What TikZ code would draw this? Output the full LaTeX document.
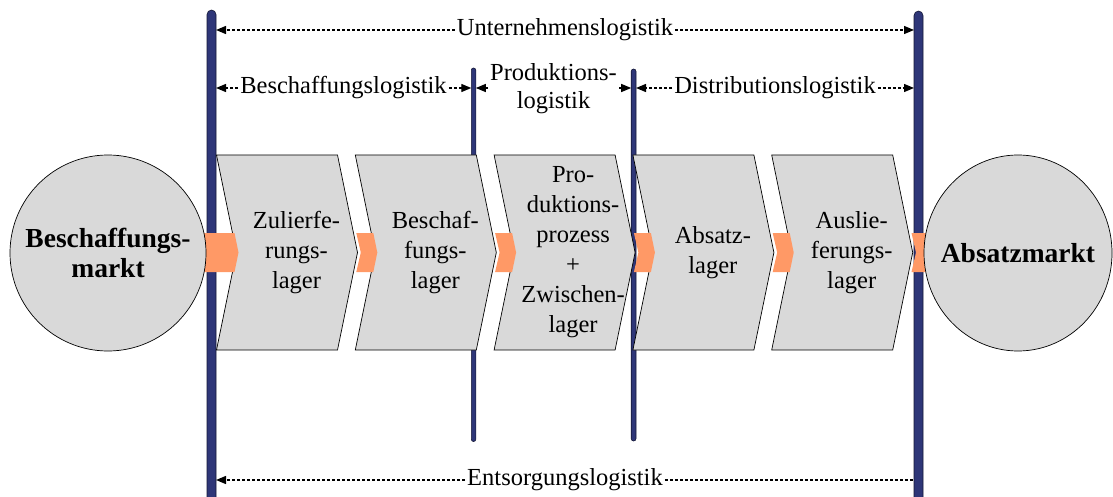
\documentclass[tikz,border=0pt]{standalone}
\usepackage{fontspec}
\setmainfont{Liberation Serif}
\usetikzlibrary{arrows.meta,shapes.geometric}
\definecolor{stagegray}{RGB}{217,217,217}
\definecolor{flow}{RGB}{255,153,102}
\definecolor{pillarblue}{RGB}{46,54,120}

\begin{document}
\begin{tikzpicture}[x=1pt,y=-1pt,
  pillar/.style={fill=pillarblue,draw=black!55!pillarblue,line width=0.6pt},
  stage/.style={fill=stagegray,draw=black,line width=0.7pt},
  flowarrow/.style={fill=flow},
  marketfont/.style={font=\fontsize{27.5}{30}\selectfont\bfseries,align=center,inner sep=0pt},
  market/.style={fill=stagegray,draw=black,line width=0.7pt,inner sep=0pt,marketfont},
  stagetext/.style={font=\fontsize{24.5}{30}\selectfont,align=center,inner sep=0pt},
  spanline/.style={dash pattern=on 3pt off 2pt,line width=1.3pt},
  spantip/.style={-{Triangle[length=10pt,width=8pt]}},
  spanlabel/.style={font=\fontsize{24.5}{28}\selectfont,align=center,inner sep=2pt}
]
\useasboundingbox (0,0) rectangle (1113,497);
\clip (0,0) rectangle (1113,497);

% vertical boundaries of the logistics areas
\filldraw[pillar,rounded corners=4.5pt] (207,10) rectangle (216,530);
\filldraw[pillar,rounded corners=2.2pt] (471.3,68) rectangle (475.8,441.5);
\filldraw[pillar,rounded corners=2.4pt] (631.2,69) rectangle (636,441);
\filldraw[pillar,rounded corners=4.5pt] (914,11) rectangle (923,530);

% process stages (chevrons)
\foreach \L in {216.5,355.3,494.1,632.9,771.7}{
  \filldraw[stage] (\L,155) -- ++(121,0) -- ++(20,97.5) -- ++(-20,97.5)
    -- ++(-121,0) -- ++(20,-97.5) -- cycle;
}

% material flow between the stages
\fill[flowarrow] (195,233) -- (234.5,233) -- (238.5,252.5) -- (234.5,272) -- (195,272) -- cycle;
\foreach \L in {355.3,494.1,632.9,771.7,910.5}{
  \fill[flowarrow] (\L+1,233) -- (\L+18,233) -- (\L+22,252.5) -- (\L+18,272)
    -- (\L+1,272) -- (\L+5.5,252.5) -- cycle;
}

% markets
\node[market,circle,minimum size=196pt] (bm) at (108,253) {Beschaffungs-\\markt};
\node[market,ellipse,minimum width=188pt,minimum height=196pt,
  label={[marketfont]center:Absatzmarkt}] (am) at (1018,253) {};

% stage labels
\node[stagetext] (s1) at (296.5,252.5) {Zulierfe-\\rungs-\\lager};
\node[stagetext] (s2) at (435.3,252.5) {Beschaf-\\fungs-\\lager};
\node[stagetext] (s3) at (573.1,252.5) {Pro-\\duktions-\\prozess\\+\\Zwischen-\\lager};
\node[stagetext] (s4) at (712.9,252.5) {Absatz-\\lager};
\node[stagetext] (s5) at (851.7,252.5) {Auslie-\\ferungs-\\lager};

% end points on the boundaries
\coordinate (u1) at (216,30);
\coordinate (u4) at (914,30);
\coordinate (b1) at (216,88);
\coordinate (b2) at (471.3,88);
\coordinate (p2) at (475.8,88);
\coordinate (p3) at (631.2,88);
\coordinate (d3) at (636,88);
\coordinate (d4) at (914,88);
\coordinate (e1) at (216,480);
\coordinate (e4) at (914,480);

% area spans
\node[spanlabel] (ul) at (565,30) {Unternehmenslogistik};
\node[spanlabel] (bl) at (343.5,88) {Beschaffungslogistik};
\node[spanlabel] (pl) at (553.5,88.5) {Produktions-\\logistik};
\node[spanlabel] (dl) at (775,88) {Distributionslogistik};
\node[spanlabel] (el) at (565,480) {Entsorgungslogistik};

\draw[spanline,spantip] (ul) -- (u1);
\draw[spanline,spantip] (ul) -- (u4);
\draw[spanline,spantip] (bl) -- (b1);
\draw[spanline,spantip] (bl) -- (b2);
\draw[spanline,spantip] (pl.west |- p2) -- (p2);
\draw[spanline,spantip] (pl.east |- p3) -- (p3);
\draw[spanline,spantip] (dl) -- (d3);
\draw[spanline,spantip] (dl) -- (d4);
\draw[spanline,spantip] (el) -- (e1);
\draw[spanline] (el) -- (e4);
\end{tikzpicture}
\end{document}
